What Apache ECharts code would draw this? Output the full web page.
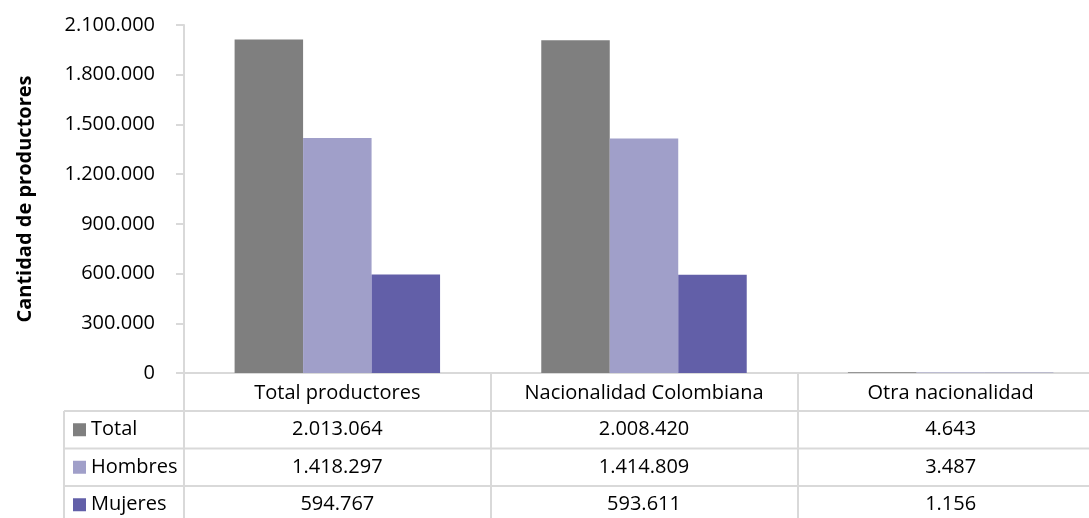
<!DOCTYPE html>
<html><head><meta charset="utf-8">
<script src="https://cdn.jsdelivr.net/npm/echarts@6/dist/echarts.min.js"></script>
<style>html,body{margin:0;padding:0;background:#fff}#c{width:1089px;height:518px}</style>
</head><body><div id="c"></div>
<script>
var categories = ['Total productores', 'Nacionalidad Colombiana', 'Otra nacionalidad'];
var seriesNames = ['Total', 'Hombres', 'Mujeres'];
var totalValues = [2013064, 2008420, 4643];
var hombresValues = [1418297, 1414809, 3487];
var mujeresValues = [594767, 593611, 1156];
var yTicks = [0, 300000, 600000, 900000, 1200000, 1500000, 1800000, 2100000];
var colors = ['#7f7f7f', '#a09fc9', '#625fa8'];
var FONT = 'Open Sans';
var LINE = '#d9d9d9';
var FS = 20;

function fmt(v){ return String(v).replace(/\B(?=(\d{3})+(?!\d))/g, '.'); }

var chart = echarts.init(document.getElementById('c'));
var allValues = [totalValues, hombresValues, mujeresValues];
var option = {
  animation: false,
  textStyle: {fontFamily: FONT},
  grid: {left: 184, right: -15, top: 25, bottom: 145, outerBoundsMode: 'none', containLabel: false},
  xAxis: {
    type: 'category', data: categories,
    axisLine: {show: true, lineStyle: {color: LINE, width: 2}},
    axisTick: {show: true, interval: 0, alignWithLabel: false, length: 150, lineStyle: {color: LINE, width: 2}},
    axisLabel: {interval: 0, hideOverlap: false, margin: 8, fontSize: FS, lineHeight: 24, color: '#000', fontFamily: FONT}
  },
  yAxis: {
    type: 'value', min: yTicks[0], max: yTicks[yTicks.length-1], interval: yTicks[1]-yTicks[0],
    name: 'Cantidad de productores', nameLocation: 'middle', nameGap: 149,
    nameTextStyle: {fontSize: FS, fontWeight: 'bold', color: '#000', fontFamily: FONT},
    axisLine: {show: true, lineStyle: {color: LINE, width: 2}},
    axisTick: {show: true, length: 8, lineStyle: {color: LINE, width: 2}},
    splitLine: {show: false},
    axisLabel: {margin: 29, fontSize: FS, color: '#000', fontFamily: FONT, formatter: fmt}
  },
  series: seriesNames.map(function(n, i){
    return {name: n, type: 'bar', data: allValues[i], barGap: '0%', barCategoryGap: '33%',
      itemStyle: {color: colors[i]}};
  })
};
chart.setOption(option);

// data table below the chart
var rowTops = [411, 448.5, 486, 523.5];
var tableLeft = 64;
var g = [];
for (var r = 0; r < 3; r++) {
  g.push({type: 'line', shape: {x1: tableLeft, y1: rowTops[r], x2: 1089, y2: rowTops[r]}, style: {stroke: LINE, lineWidth: 2}});
}
g.push({type: 'line', shape: {x1: tableLeft, y1: rowTops[0], x2: tableLeft, y2: 518}, style: {stroke: LINE, lineWidth: 2}});
for (var s = 0; s < 3; s++) {
  var cy = (rowTops[s] + rowTops[s+1]) / 2;
  g.push({type: 'rect', shape: {x: 73, y: cy - 6.5, width: 13, height: 13}, style: {fill: colors[s]}});
  g.push({type: 'text', x: 91, y: cy, style: {text: seriesNames[s], font: FS + 'px "' + FONT + '"', fill: '#000', textVerticalAlign: 'middle', textAlign: 'left'}});
  for (var c = 0; c < categories.length; c++) {
    var px = chart.convertToPixel({xAxisIndex: 0}, categories[c]);
    g.push({type: 'text', x: px, y: cy, style: {text: fmt(allValues[s][c]), font: FS + 'px "' + FONT + '"', fill: '#000', textVerticalAlign: 'middle', textAlign: 'center'}});
  }
}
chart.setOption({graphic: {elements: g}});
</script></body></html>
